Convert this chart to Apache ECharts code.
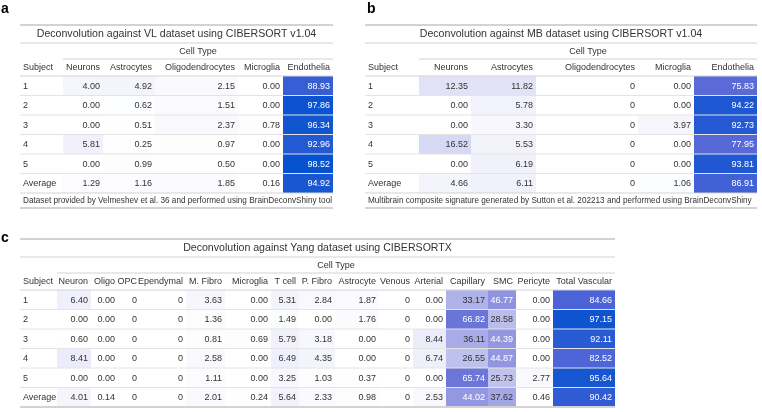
<!DOCTYPE html>
<html>
<head>
<meta charset="utf-8">
<script src="https://cdn.jsdelivr.net/npm/echarts@6/dist/echarts.min.js"></script>
<style>
html,body{margin:0;padding:0;background:#fff;}
#chart{width:762px;height:412px;}
</style>
</head>
<body>
<div id="chart"></div>
<script>
// ---------------- DATA ----------------
const subjects = ['1', '2', '3', '4', '5', 'Average'];

// Table a: VL dataset, CIBERSORT v1.04
const vlTitle = 'Deconvolution against VL dataset using CIBERSORT v1.04';
const vlNote = 'Dataset provided by Velmeshev et al. 36 and performed using BrainDeconvShiny tool';
const vlCellTypes = ['Neurons', 'Astrocytes', 'Oligodendrocytes', 'Microglia', 'Endothelia'];
const vlNeurons = [4.00, 0.00, 0.00, 5.81, 0.00, 1.29];
const vlAstrocytes = [4.92, 0.62, 0.51, 0.25, 0.99, 1.16];
const vlOligodendrocytes = [2.15, 1.51, 2.37, 0.97, 0.50, 1.85];
const vlMicroglia = [0.00, 0.00, 0.78, 0.00, 0.00, 0.16];
const vlEndothelia = [88.93, 97.86, 96.34, 92.96, 98.52, 94.92];

// Table b: MB dataset, CIBERSORT v1.04
const mbTitle = 'Deconvolution against MB dataset using CIBERSORT v1.04';
const mbNote = 'Multibrain composite signature generated by Sutton et al. 202213 and performed using BrainDeconvShiny';
const mbCellTypes = ['Neurons', 'Astrocytes', 'Oligodendrocytes', 'Microglia', 'Endothelia'];
const mbNeurons = [12.35, 0.00, 0.00, 16.52, 0.00, 4.66];
const mbAstrocytes = [11.82, 5.78, 3.30, 5.53, 6.19, 6.11];
const mbOligodendrocytes = [0, 0, 0, 0, 0, 0];
const mbMicroglia = [0.00, 0.00, 3.97, 0.00, 0.00, 1.06];
const mbEndothelia = [75.83, 94.22, 92.73, 77.95, 93.81, 86.91];

// Table c: Yang dataset, CIBERSORTX
const yangTitle = 'Deconvolution against Yang dataset using CIBERSORTX';
const yangCellTypes = ['Neuron', 'Oligo', 'OPC', 'Ependymal', 'M. Fibro', 'Microglia', 'T cell', 'P. Fibro', 'Astrocyte', 'Venous', 'Arterial', 'Capillary', 'SMC', 'Pericyte', 'Total Vascular'];
const yangNeuron = [6.40, 0.00, 0.60, 8.41, 0.00, 4.01];
const yangOligo = [0.00, 0.00, 0.00, 0.00, 0.00, 0.14];
const yangOPC = [0, 0, 0, 0, 0, 0];
const yangEpendymal = [0, 0, 0, 0, 0, 0];
const yangMFibro = [3.63, 1.36, 0.81, 2.58, 1.11, 2.01];
const yangMicroglia = [0.00, 0.00, 0.69, 0.00, 0.00, 0.24];
const yangTCell = [5.31, 1.49, 5.79, 6.49, 3.25, 5.64];
const yangPFibro = [2.84, 0.00, 3.18, 4.35, 1.03, 2.33];
const yangAstrocyte = [1.87, 1.76, 0.00, 0.00, 0.37, 0.98];
const yangVenous = [0, 0, 0, 0, 0, 0];
const yangArterial = [0.00, 0.00, 8.44, 6.74, 0.00, 2.53];
const yangCapillary = [33.17, 66.82, 36.11, 26.55, 65.74, 44.02];
const yangSMC = [46.77, 28.58, 44.39, 44.87, 25.73, 37.62];
const yangPericyte = [0.00, 0.00, 0.00, 0.00, 2.77, 0.46];
const yangTotalVascular = [84.66, 97.15, 92.11, 82.52, 95.64, 90.42];

// ---------------- STYLE / LAYOUT ----------------
const FONT = '"Liberation Sans", Arial, sans-serif';
const TXT = '#333333';
const colorStops = [[0, [255, 255, 255]], [45, [146, 150, 224]], [70, [100, 112, 216]], [85, [74, 99, 215]], [100, [0, 80, 207]]];
const whiteTextAbove = 40;

// column widths (px)
const tables = [
  {left: 20, top: 25, colW: [43, 40, 52, 83, 45, 50], title: vlTitle, note: vlNote,
   types: vlCellTypes, cols: [vlNeurons, vlAstrocytes, vlOligodendrocytes, vlMicroglia, vlEndothelia]},
  {left: 365, top: 25, colW: [54, 52, 65, 102, 56, 63], title: mbTitle, note: mbNote,
   types: mbCellTypes, cols: [mbNeurons, mbAstrocytes, mbOligodendrocytes, mbMicroglia, mbEndothelia]},
  {left: 20, top: 239, colW: [37, 34, 27, 22, 46, 39, 46, 28, 36, 44, 34, 33, 42, 28, 37, 62], title: yangTitle, note: null,
   types: yangCellTypes, cols: [yangNeuron, yangOligo, yangOPC, yangEpendymal, yangMFibro, yangMicroglia, yangTCell, yangPFibro, yangAstrocyte, yangVenous, yangArterial, yangCapillary, yangSMC, yangPericyte, yangTotalVascular]}
];
const V = {titleY: 9.5, titleLine: 18, spanY: 27, spanLine: 34, headY: 43, headLine: 51, rowH: 19.5, noteH: 15};

function colorFor(v) {
  for (let i = 1; i < colorStops.length; i++) {
    const [a, ca] = colorStops[i - 1], [b, cb] = colorStops[i];
    if (v <= b) {
      const t = (v - a) / (b - a);
      const c = ca.map((x, k) => Math.round(x + (cb[k] - x) * t));
      return 'rgb(' + c.join(',') + ')';
    }
  }
  const l = colorStops[colorStops.length - 1][1];
  return 'rgb(' + l.join(',') + ')';
}

const grids = [], xAxes = [], yAxes = [], series = [];
tables.forEach((tb, ti) => {
  const W = tb.colW.reduce((s, w) => s + w, 0);
  const starts = [];
  let acc = 0;
  tb.colW.forEach(w => { starts.push(acc); acc += w; });
  const bodyEnd = V.headLine + V.rowH * subjects.length;
  const H = bodyEnd + (tb.note ? V.noteH : 0) + 1;
  tb.W = W; tb.H = H; tb.starts = starts; tb.bodyEnd = bodyEnd;
  grids.push({left: tb.left, top: tb.top, width: W, height: H, containLabel: false, show: false});
  xAxes.push({type: 'value', gridIndex: ti, min: 0, max: W, show: false});
  yAxes.push({type: 'value', gridIndex: ti, min: 0, max: H, inverse: true, show: false});

  const allZero = tb.cols.map(c => c.every(v => v === 0));
  const cellData = [];
  tb.cols.forEach((col, ci) => col.forEach((v, ri) => cellData.push([ci, ri, v])));

  // cells
  series.push({
    type: 'custom', xAxisIndex: ti, yAxisIndex: ti, z: 2, silent: true,
    data: cellData,
    renderItem: function (params, api) {
      const ci = api.value(0), ri = api.value(1), v = api.value(2);
      const x0 = tb.starts[ci + 1], x1 = x0 + tb.colW[ci + 1];
      const y0 = V.headLine + ri * V.rowH, y1 = y0 + V.rowH;
      const p0 = api.coord([x0, y0]), p1 = api.coord([x1, y1]);
      const label = allZero[ci] ? '0' : v.toFixed(2);
      return {
        type: 'group',
        children: [
          {type: 'rect', shape: {x: p0[0], y: p0[1], width: p1[0] - p0[0], height: p1[1] - p0[1]},
           style: {fill: colorFor(v)}},
          {type: 'text', style: {x: p1[0] - 3, y: (p0[1] + p1[1]) / 2 + 0.5, text: label, fill: v > whiteTextAbove ? '#ffffff' : TXT,
            font: '9px ' + FONT, textAlign: 'right', textVerticalAlign: 'middle'}}
        ]
      };
    }
  });

  // frame: title, spanner, headers, subject column, lines, footnote
  series.push({
    type: 'custom', xAxisIndex: ti, yAxisIndex: ti, z: 3, silent: true,
    data: [[0, 0]],
    renderItem: function (params, api) {
      const c = (x, y) => api.coord([x, y]);
      const ch = [];
      const hline = (y, xa, xb, color, lw) => {
        const a = c(xa, y), b = c(xb, y);
        ch.push({type: 'line', shape: {x1: a[0], y1: a[1], x2: b[0], y2: b[1]}, style: {stroke: color, lineWidth: lw}});
      };
      const text = (x, y, s, align, size, color) => {
        const p = c(x, y);
        ch.push({type: 'text', style: {x: p[0], y: p[1], text: s, fill: color || TXT, font: size + 'px ' + FONT, textAlign: align, textVerticalAlign: 'middle'}});
      };
      hline(0, 0, tb.W, '#d3d3d3', 2);
      text(tb.W / 2, V.titleY, tb.title, 'center', 10.6);
      hline(V.titleLine, 0, tb.W, '#d3d3d3', 1);
      text((tb.starts[1] + tb.W) / 2, V.spanY, 'Cell Type', 'center', 9);
      hline(V.spanLine, tb.starts[1], tb.W, '#d3d3d3', 1);
      text(3, V.headY, 'Subject', 'left', 9);
      tb.types.forEach((t, i) => text(tb.starts[i + 1] + tb.colW[i + 1] - 3, V.headY, t, 'right', 9));
      hline(V.headLine, 0, tb.W, '#d3d3d3', 1);
      subjects.forEach((s, ri) => {
        const y0 = V.headLine + ri * V.rowH;
        text(3, y0 + V.rowH / 2 + 0.5, s, 'left', 9);
        if (ri > 0) hline(y0, 0, tb.W, '#e4e4e4', 1);
      });
      if (tb.note) {
        hline(tb.bodyEnd, 0, tb.W, '#d3d3d3', 1);
        text(3, tb.bodyEnd + V.noteH / 2, tb.note, 'left', 8.2);
        hline(tb.bodyEnd + V.noteH, 0, tb.W, '#d3d3d3', 2);
      } else {
        hline(tb.bodyEnd, 0, tb.W, '#d3d3d3', 2);
      }
      return {type: 'group', children: ch};
    }
  });
});

const chart = echarts.init(document.getElementById('chart'), null, {renderer: 'canvas'});
chart.setOption({
  animation: false,
  backgroundColor: '#ffffff',
  grid: grids,
  xAxis: xAxes,
  yAxis: yAxes,
  series: series,
  graphic: [
    {type: 'text', left: 1, top: 2, style: {text: 'a', font: 'bold 14px ' + FONT, fill: '#000'}},
    {type: 'text', left: 367, top: 2, style: {text: 'b', font: 'bold 14px ' + FONT, fill: '#000'}},
    {type: 'text', left: 1, top: 231, style: {text: 'c', font: 'bold 14px ' + FONT, fill: '#000'}}
  ]
});
</script>
</body>
</html>
